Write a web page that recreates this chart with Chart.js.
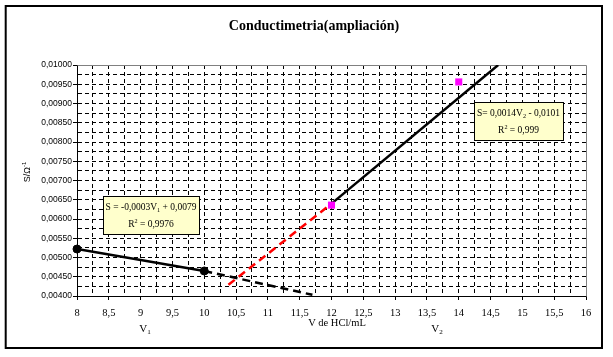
<!DOCTYPE html>
<html><head><meta charset="utf-8">
<script src="https://cdn.jsdelivr.net/npm/chart.js@4/dist/chart.umd.min.js"></script>
<style>html,body{margin:0;padding:0;background:#fff;}canvas{display:block;}</style>
</head><body>
<canvas id="c" width="613" height="357"></canvas>
<script>
// ---- data ----
const chartTitle = 'Conductimetria(ampliación)';
const xAxisTitle = 'V de HCl/mL';
const yAxisTitle = [['S/Ω','n'],['-1','sup']];
const xLimits = [8, 16];
const xMinorStep = 0.25;
const yLimits = [0.004, 0.010];
const yMinorStep = 0.00025;
// measured points before / after equivalence
const beforeV = [8, 10];
const beforeS = [0.00522, 0.00465];
const afterV = [12, 14];
const afterS = [0.00636, 0.00956];
// trend lines (drawn segments) and their extrapolations
const trend1V = [8, 10];
const trend1S = [0.00522, 0.00465];
const trend1ExtV = [10, 11.7];
const trend1ExtS = [0.00465, 0.00403];
const trend2V = [12, 14.62];
const trend2S = [0.00640, 0.01000];
const trend2ExtV = [10.38, 12];
const trend2ExtS = [0.00429, 0.00640];
// equation labels
const eq1Line1 = [['S = -0,0003V','n'],['1','sub'],[' + 0,0079','n']];
const eq1Line2 = [['R','n'],['2','sup'],[' = 0,9976','n']];
const eq2Line1 = [['S= 0,0014V','n'],['2','sub'],[' - 0,0101','n']];
const eq2Line2 = [['R','n'],['2','sup'],[' = 0,999','n']];
const v1Label = [['V','n'],['1','sub']];
const v2Label = [['V','n'],['2','sub']];

function toXY(xs, ys){ return xs.map((x,i)=>({x:x, y:ys[i]})); }

const SERIF = '"Liberation Serif", "Times New Roman", serif';
const SANS = '"Liberation Sans", Arial, sans-serif';

function rich(ctx, parts, x, y, size, family, align, weight){
  weight = weight || '';
  const small = size*0.65;
  const widths = parts.map(p=>{ ctx.font = `${weight} ${p[1]==='n'?size:small}px ${family}`; return ctx.measureText(p[0]).width; });
  const total = widths.reduce((a,b)=>a+b,0);
  let cx = align==='center' ? x-total/2 : (align==='right' ? x-total : x);
  ctx.textAlign='left'; ctx.textBaseline='alphabetic'; ctx.fillStyle='#000';
  parts.forEach((p,i)=>{
    ctx.font = `${weight} ${p[1]==='n'?size:small}px ${family}`;
    const dy = p[1]==='sub' ? size*0.22 : (p[1]==='sup' ? -size*0.42 : 0);
    ctx.fillText(p[0], cx, y+dy);
    cx += widths[i];
  });
}

function isMajor(v, step){ const r = v/step; return Math.abs(r-Math.round(r))<1e-6; }
function isEdge(v, lim){ return Math.abs(v-lim[0])<1e-9 || Math.abs(v-lim[1])<1e-9; }

const decor = {
  id:'decor',
  beforeDatasetsDraw(chart){
    const ctx = chart.ctx, a = chart.chartArea;
    ctx.save();
    ctx.strokeStyle='#808080'; ctx.lineWidth=1;
    ctx.beginPath();
    ctx.moveTo(Math.round(a.left)+0.5, Math.round(a.top)+0.5);
    ctx.lineTo(Math.round(a.right)+0.5, Math.round(a.top)+0.5);
    ctx.lineTo(Math.round(a.right)+0.5, Math.round(a.bottom)+0.5);
    ctx.stroke();
    ctx.restore();
  },
  afterDraw(chart){
    const ctx = chart.ctx;
    ctx.save();
    // title
    ctx.fillStyle='#000';
    ctx.font = `bold 14px ${SERIF}`;
    ctx.textAlign='center'; ctx.textBaseline='alphabetic';
    ctx.fillText(chartTitle, 314, 30);
    // x axis title and V labels
    ctx.font = `10.5px ${SERIF}`;
    ctx.fillText(xAxisTitle, 337, 326);
    rich(ctx, v1Label, 145, 332, 11, SERIF, 'center');
    rich(ctx, v2Label, 437, 332, 11, SERIF, 'center');
    // y axis title
    ctx.save();
    ctx.translate(29.5, 172);
    ctx.rotate(-Math.PI/2);
    rich(ctx, yAxisTitle, 0, 0, 9, SANS, 'center');
    ctx.restore();
    // equation boxes
    const boxes = [
      {r:[103,196,96,38], l1:eq1Line1, l2:eq1Line2, cx:151, b1:209.5, b2:227},
      {r:[474,102,89,38], l1:eq2Line1, l2:eq2Line2, cx:518.5, b1:115.5, b2:133}
    ];
    boxes.forEach(b=>{
      ctx.fillStyle='#FFFFCC';
      ctx.fillRect(b.r[0]+0.5,b.r[1]+0.5,b.r[2],b.r[3]);
      ctx.strokeStyle='#000'; ctx.lineWidth=1;
      ctx.strokeRect(b.r[0]+0.5,b.r[1]+0.5,b.r[2],b.r[3]);
      rich(ctx, b.l1, b.cx, b.b1, 9.5, SERIF, 'center');
      rich(ctx, b.l2, b.cx, b.b2, 9.5, SERIF, 'center');
    });
    // outer frame
    ctx.strokeStyle='#000'; ctx.lineWidth=2;
    ctx.strokeRect(5.7, 6, 596.3, 342);
    ctx.restore();
  }
};

new Chart(document.getElementById('c'), {
  type:'scatter',
  data:{ datasets:[
    {data:toXY(beforeV, beforeS), showLine:false, clip:false, pointStyle:'circle', pointRadius:4, pointBackgroundColor:'#000', pointBorderColor:'#000', pointBorderWidth:1},
    {data:toXY(afterV, afterS), showLine:false, clip:false, pointStyle:'rect', pointRadius:5, pointBackgroundColor:'#FF00FF', pointBorderColor:'#FF00FF', pointBorderWidth:0},
    {data:toXY(trend1V, trend1S), showLine:true, pointRadius:0, borderColor:'#000', borderWidth:2.5},
    {data:toXY(trend1ExtV, trend1ExtS), showLine:true, pointRadius:0, borderColor:'#000', borderWidth:2.5, borderDash:[8,5]},
    {data:toXY(trend2V, trend2S), showLine:true, pointRadius:0, borderColor:'#000', borderWidth:2.5},
    {data:toXY(trend2ExtV, trend2ExtS), showLine:true, pointRadius:0, borderColor:'#FF0000', borderWidth:2.5, borderDash:[8,5]}
  ]},
  options:{
    responsive:false, animation:false, devicePixelRatio:1,
    layout:{padding:{left:0, right:27, top:65, bottom:0}},
    plugins:{legend:{display:false}, tooltip:{enabled:false}, title:{display:false}},
    scales:{
      x:{type:'linear', min:xLimits[0], max:xLimits[1],
        ticks:{stepSize:xMinorStep, autoSkip:false, maxRotation:0, minRotation:0, padding:7, color:'#000',
          font:{family:SERIF, size:10.5},
          callback:(v)=> isMajor(v,0.5) ? String(Math.round(v*10)/10).replace('.',',') : ''},
        grid:{lineWidth:1, tickLength:4, tickWidth:1,
          color:(c)=> (c.tick && isEdge(c.tick.value, xLimits)) ? 'rgba(0,0,0,0)' : '#000',
          tickColor:(c)=> (c.tick && isMajor(c.tick.value,0.5)) ? '#000' : 'rgba(0,0,0,0)'},
        border:{display:true, color:'#000', width:1, dash:[4,3]},
        afterFit:(s)=>{ s.height = 61; }
      },
      y:{type:'linear', min:yLimits[0], max:yLimits[1],
        ticks:{stepSize:yMinorStep, autoSkip:false, padding:1, color:'#000',
          font:{family:SANS, size:8.5},
          callback:(v)=> isMajor(v,0.0005) ? v.toFixed(5).replace('.',',') : ''},
        grid:{lineWidth:1, tickLength:4, tickWidth:1,
          color:(c)=> (c.tick && isEdge(c.tick.value, yLimits)) ? 'rgba(0,0,0,0)' : '#000',
          tickColor:(c)=> (c.tick && isMajor(c.tick.value,0.0005)) ? '#000' : 'rgba(0,0,0,0)'},
        border:{display:true, color:'#000', width:1, dash:[4,3]},
        afterFit:(s)=>{ s.width = 77; }
      }
    }
  },
  plugins:[decor]
});
</script>
</body></html>
